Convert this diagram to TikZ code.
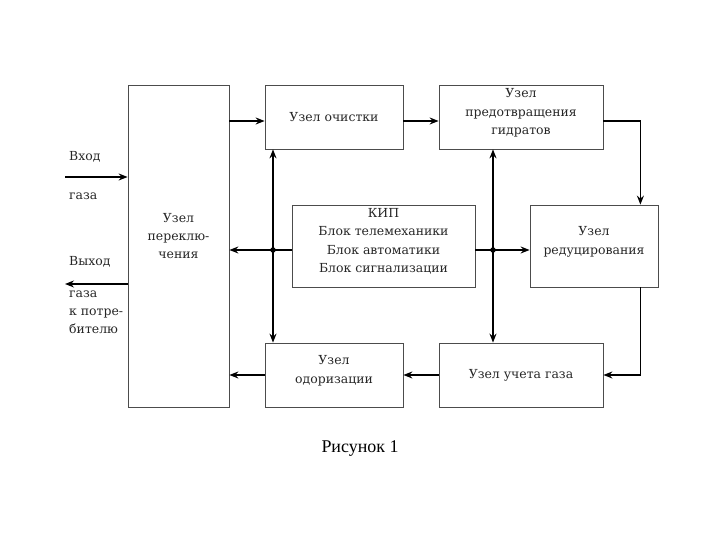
\documentclass[tikz,border=0pt]{standalone}
\usepackage{fontspec}
\setmainfont{Liberation Serif}
\newfontfamily\schemefont{DejaVu Serif}
\usetikzlibrary{arrows.meta,positioning,calc}
\tikzset{
  block/.style={draw=black!70, line width=0.8pt, rectangle, align=center, text=black!85,
    inner sep=0pt, font=\schemefont\fontsize{12.5}{18.3}\selectfont},
  lift/.style={text depth=#1},
  flow/.style={-{Stealth[length=9bp,width=7bp,inset=3bp]}, line width=1.4pt},
  both/.style={{Stealth[length=9bp,width=7bp,inset=3bp]}-{Stealth[length=9bp,width=7bp,inset=3bp]}, line width=1.4pt},
  junction/.style={circle, fill, inner sep=0pt, minimum size=5.5bp},
  note/.style={inner sep=0pt, align=left, text=black!85, font=\schemefont\fontsize{12.5}{18}\selectfont}
}

\begin{document}
\begin{tikzpicture}[x=1bp, y=1bp]
        \useasboundingbox (0,0) rectangle (720,540);

        % blocks
        \node[block, lift=20bp, minimum width=101bp, minimum height=322bp] (switch) at (178.5,294) {Узел\\переклю-\\чения};
        \node[block, minimum width=138bp, minimum height=64bp] (clean) at (334,423) {Узел очистки};
        \node[block, lift=11bp, minimum width=164bp, minimum height=64bp] (hydr) at (521,423) {Узел\\предотвращения\\гидратов};
        \node[block, lift=11bp, minimum width=183bp, minimum height=82bp] (kip) at (383.5,294) {КИП\\Блок телемеханики\\Блок автоматики\\Блок сигнализации};
        \node[block, lift=11bp, minimum width=128bp, minimum height=82bp] (reduce) at (594,294) {Узел\\редуцирования};
        \node[block, minimum width=164bp, minimum height=64bp] (meter) at (521,165) {Узел учета газа};
        \node[block, lift=11bp, minimum width=138bp, minimum height=64bp] (odor) at (334,165) {Узел\\одоризации};

        % gas path
        \coordinate (toprow) at (0,419);
        \draw[flow] (switch.east |- toprow) -- (clean.west |- toprow);
        \draw[flow] (clean.east |- toprow) -- (hydr.west |- toprow);
        \draw[flow] (hydr.east |- toprow) -| ([xshift=-18bp]reduce.north east);
        \draw[flow] ([xshift=-18bp]reduce.south east) |- (meter.east);
        \draw[flow] (meter.west) -- (odor.east);
        \draw[flow] (odor.west) -- (switch.east |- odor);

        % control lines
        \coordinate (jleft) at (273,290);
        \coordinate (jright) at (493,290);
        \draw[flow] (kip.west |- jleft) -- (switch.east |- jleft);
        \draw[flow] (kip.east |- jright) -- (reduce.west |- jright);
        \draw[both] (jleft |- clean.south) -- (jleft |- odor.north);
        \draw[both] (jright |- hydr.south) -- (jright |- meter.north);
        \node[junction] (dotleft) at (jleft) {};
        \node[junction] (dotright) at (jright) {};

        % inlet and outlet
        \coordinate (inlet) at (65,363);
        \coordinate (outlet) at (65,256);
        \draw[flow] (inlet) -- (inlet -| switch.west);
        \draw[flow] (outlet -| switch.west) -- (outlet);
        \node[note, anchor=west] (inlabel) at (69,383) {Вход};
        \node[note, anchor=west] (inlabel2) at (69,344) {газа};
        \node[note, anchor=west] (outlabel) at (69,278) {Выход};
        \node[note, anchor=north west] (outlabel2) at (69,249) {газа\\к потре-\\бителю};

        \node[font=\fontsize{18}{20}\selectfont] (caption) at (360,91) {Рисунок 1};
    \end{tikzpicture}
\end{document}
